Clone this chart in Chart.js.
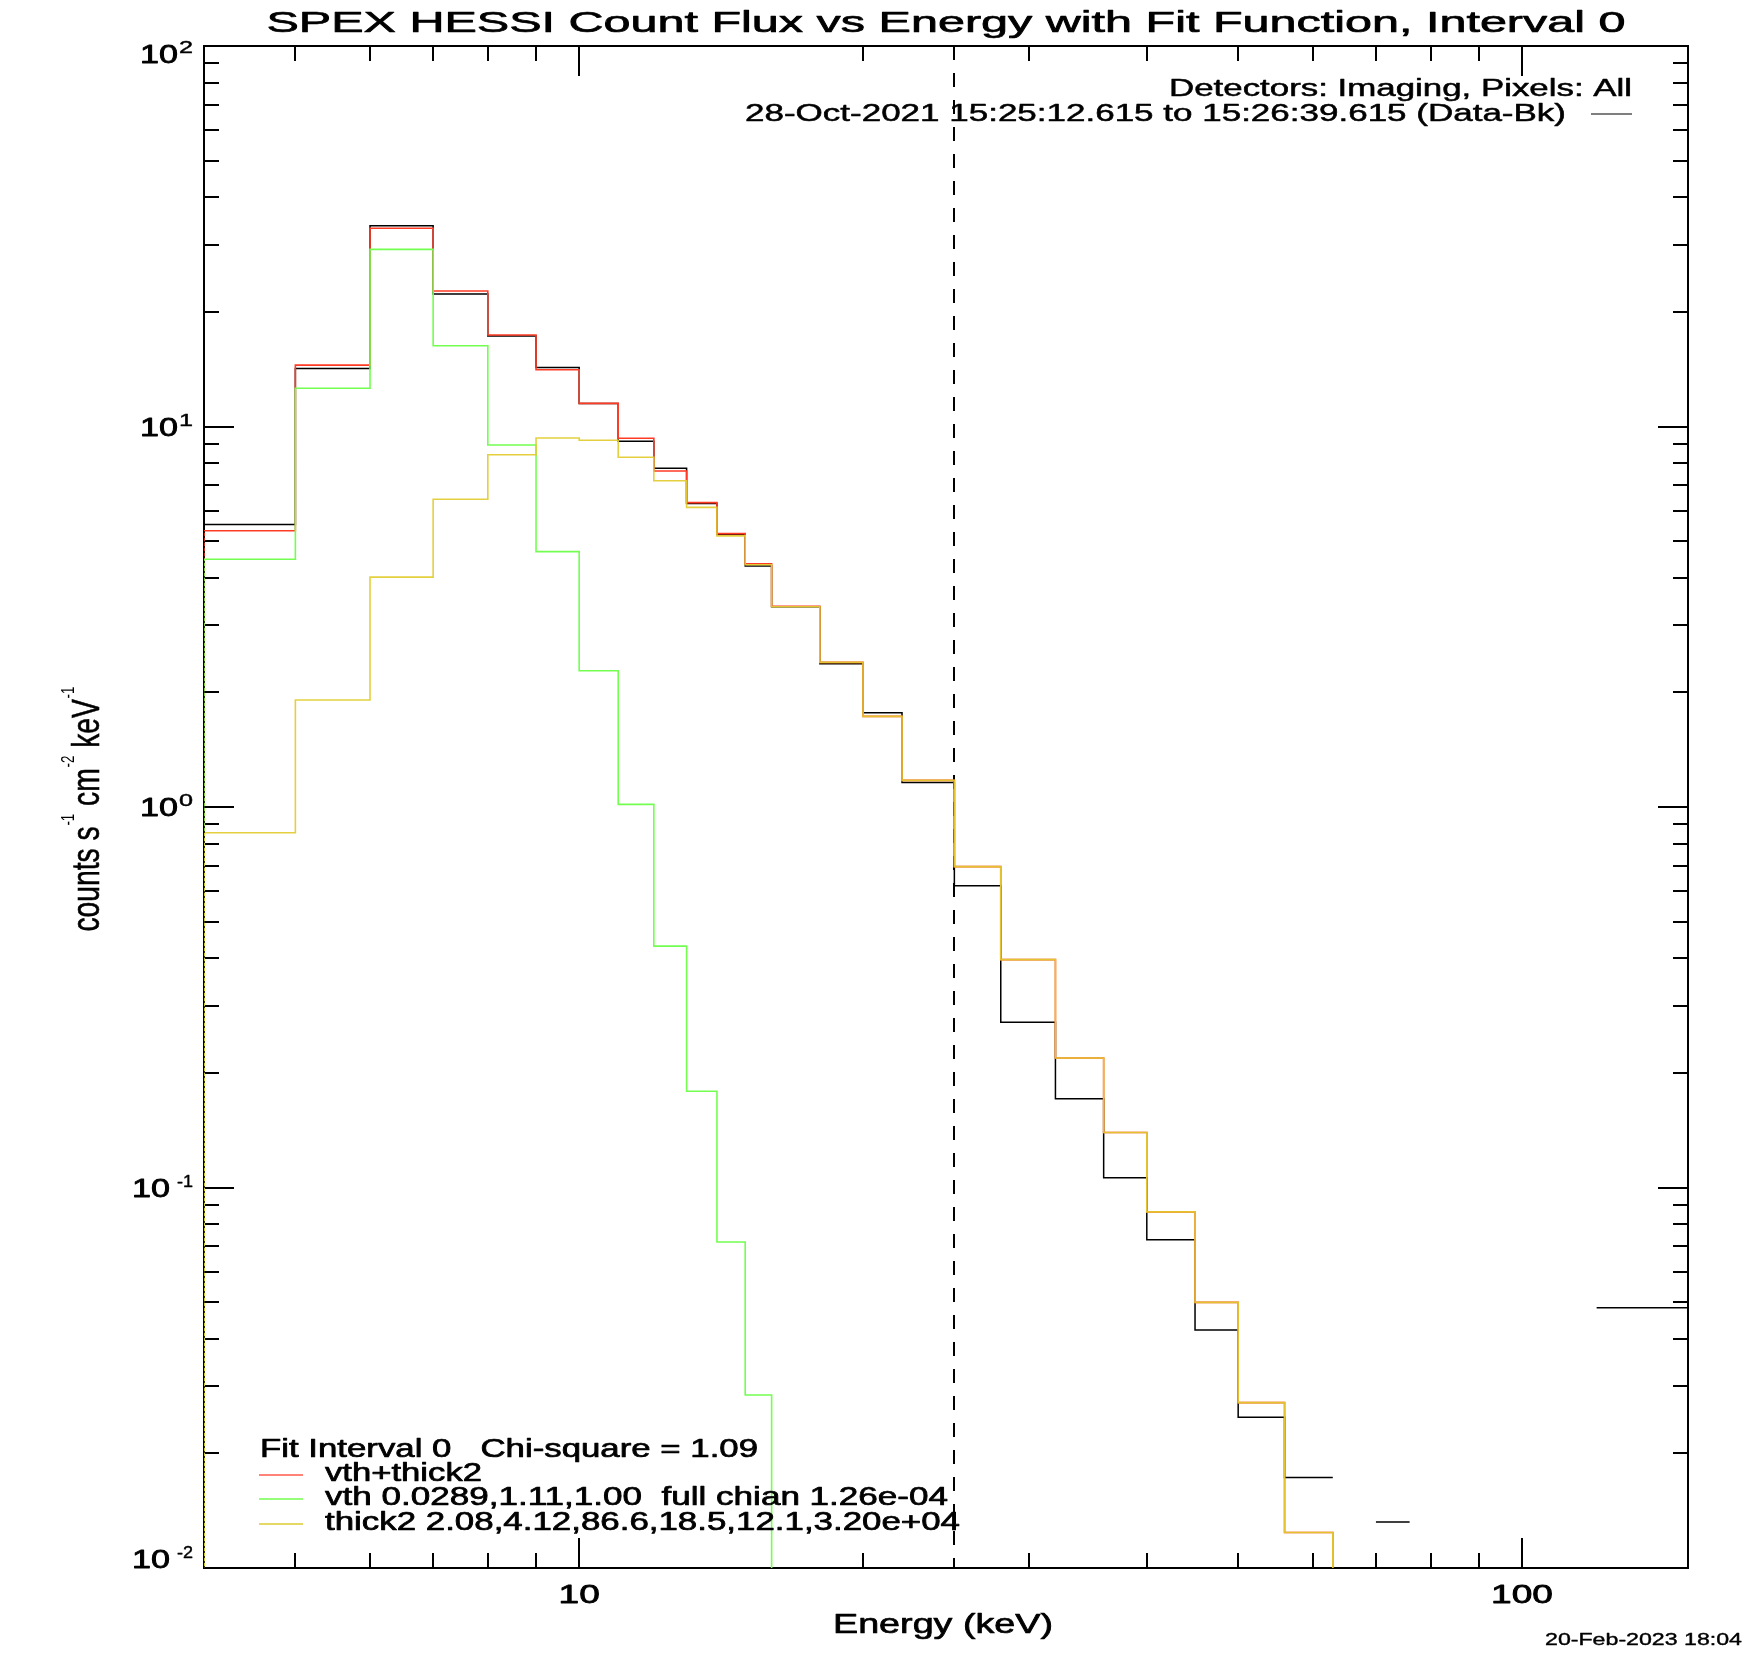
<!DOCTYPE html>
<html>
<head>
<meta charset="utf-8">
<script src="https://cdn.jsdelivr.net/npm/chart.js@4.4.1/dist/chart.umd.min.js"></script>
<style>
  html, body { margin: 0; padding: 0; background: #ffffff; }
  canvas { display: block; }
</style>
</head>
<body>
<canvas id="c" width="1750" height="1660"></canvas>
<script>
// ---------------- data ----------------
const binLow  = [4, 5, 6, 7, 8, 9, 10, 11, 12, 13, 14, 15, 16, 18, 20, 22, 25, 28, 32, 36, 40, 45, 50, 56, 63, 70, 120];
const binHigh = [5, 6, 7, 8, 9, 10, 11, 12, 13, 14, 15, 16, 18, 20, 22, 25, 28, 32, 36, 40, 45, 50, 56, 63, 70, 76, 150];

// Data - background (black)
const dataFlux  = [5.53, 14.2, 33.7, 22.3, 17.3, 14.3, 11.5, 9.14, 7.77, 6.28, 5.20, 4.30, 3.36, 2.38, 1.77, 1.16,
                   0.621, 0.272, 0.171, 0.106, 0.0729, 0.0422, 0.0249, 0.0173, null, 0.0132, 0.0483];
// vth+thick2 (red)
const totalFit  = [5.32, 14.5, 33.2, 22.7, 17.4, 14.1, 11.5, 9.31, 7.64, 6.31, 5.23, 4.36, 3.37, 2.40, 1.73, 1.175,
                   0.697, 0.397, 0.219, 0.1395, 0.0863, 0.0499, 0.0272, 0.0124, 0.0058, null, null];
// vth (green)
const vthFit    = [4.48, 12.6, 29.2, 16.3, 8.94, 4.69, 2.28, 1.016, 0.431, 0.179, 0.0719, 0.0285, 0.0072, null, null, null,
                   null, null, null, null, null, null, null, null, null, null, null];
// thick2 (yellow)
const thick2Fit = [0.856, 1.91, 4.02, 6.44, 8.43, 9.33, 9.20, 8.30, 7.20, 6.13, 5.16, 4.33, 3.36, 2.40, 1.73, 1.175,
                   0.697, 0.397, 0.219, 0.1395, 0.0863, 0.0499, 0.0272, 0.0124, 0.0058, null, null];
const modelFloor = 0.001;   // models rise from below the plot at the first edge

const fitRange = [4, 25];   // keV, dashed markers

const xRange = [4, 150];
const yRange = [0.01, 100];
const xMajorTicks = [10, 100];
const xTickLabels = ['10', '100'];
const xMinorTicks = [5, 6, 7, 8, 9, 20, 30, 40, 50, 60, 70, 80, 90];
const yMajorTicks = [0.01, 0.1, 1, 10, 100];
const yTickBase = '10';
const yTickExponents = ['-2', '-1', '0', '1', '2'];
const yMinorTicks = [0.02, 0.03, 0.04, 0.05, 0.06, 0.07, 0.08, 0.09,
                     0.2, 0.3, 0.4, 0.5, 0.6, 0.7, 0.8, 0.9,
                     2, 3, 4, 5, 6, 7, 8, 9,
                     20, 30, 40, 50, 60, 70, 80, 90];

const titleText = 'SPEX HESSI Count Flux vs Energy with Fit Function, Interval 0';
const infoLine1 = 'Detectors: Imaging, Pixels: All';
const infoLine2 = '28-Oct-2021 15:25:12.615 to 15:26:39.615 (Data-Bk)';
const legendHead = 'Fit Interval 0   Chi-square = 1.09';
const legendLabels = ['vth+thick2', 'vth 0.0289,1.11,1.00  full chian 1.26e-04', 'thick2 2.08,4.12,86.6,18.5,12.1,3.20e+04'];
const xTitle = 'Energy (keV)';
const yTitleParts = [['counts s', '-1'], [' cm', '-2'], [' keV', '-1']];
const dateStamp = '20-Feb-2023 18:04';

// ---------------- helpers ----------------
function histPoints(vals, lead) {
  const pts = [];
  if (lead != null) pts.push({x: binLow[0], y: lead});
  vals.forEach((v, i) => {
    if (v == null) { pts.push({x: binLow[i], y: null}); return; }
    if (i > 0 && vals[i - 1] != null && binHigh[i - 1] !== binLow[i]) pts.push({x: binLow[i], y: null});
    pts.push({x: binLow[i], y: v}, {x: binHigh[i], y: v});
  });
  return pts;
}

const FONT = "'Liberation Sans', Arial, Helvetica, sans-serif";
function fitText(ctx, text, x, y, size, width, align, weight) {
  ctx.save();
  ctx.font = size + 'px ' + FONT;
  const w = ctx.measureText(text).width;
  ctx.translate(x, y);
  ctx.scale(width / w, 1);
  ctx.textAlign = align || 'left';
  ctx.textBaseline = 'alphabetic';
  ctx.fillStyle = '#000';
  ctx.strokeStyle = '#000';
  ctx.lineJoin = 'round';
  ctx.lineWidth = weight == null ? 0.6 : weight;
  ctx.fillText(text, 0, 0);
  if (ctx.lineWidth > 0) ctx.strokeText(text, 0, 0);
  ctx.restore();
}

const COL = {
  data: '#000000',
  total: '#ff3b26',
  vth: '#72ff50',
  thick: 'rgba(226,204,48,0.93)'
};
const LEG_COL = ['#ff5a4a', '#72ff50', '#dccb30'];

// ---------------- drawing plugin (frame, ticks, texts) ----------------
const idlPlugin = {
  id: 'idlFrame',
  beforeDatasetsDraw(chart) {
    const {ctx, chartArea: a, scales: {x, y}} = chart;
    ctx.save();
    ctx.strokeStyle = '#000';
    // dashed fit upper limit
    ctx.lineWidth = 2;
    ctx.setLineDash([14, 13]);
    const xf = Math.round(x.getPixelForValue(fitRange[1]));
    ctx.beginPath(); ctx.moveTo(xf, a.top); ctx.lineTo(xf, a.bottom); ctx.stroke();
    ctx.setLineDash([]);
    // frame
    ctx.lineWidth = 2;
    ctx.strokeRect(a.left, a.top, a.right - a.left, a.bottom - a.top);
    // ticks (inside)
    const tick = (v, len, axis) => {
      if (axis === 'x') {
        const p = Math.round(x.getPixelForValue(v));
        ctx.beginPath();
        ctx.moveTo(p, a.bottom); ctx.lineTo(p, a.bottom - len);
        ctx.moveTo(p, a.top); ctx.lineTo(p, a.top + len);
        ctx.stroke();
      } else {
        const p = Math.round(y.getPixelForValue(v));
        ctx.beginPath();
        ctx.moveTo(a.left, p); ctx.lineTo(a.left + len, p);
        ctx.moveTo(a.right, p); ctx.lineTo(a.right - len, p);
        ctx.stroke();
      }
    };
    ctx.lineWidth = 2;
    xMinorTicks.forEach(v => tick(v, 15, 'x'));
    xMajorTicks.forEach(v => tick(v, 30, 'x'));
    yMinorTicks.forEach(v => tick(v, 15, 'y'));
    yMajorTicks.forEach(v => tick(v, 30, 'y'));
    ctx.restore();
  },
  afterDatasetsDraw(chart) {
    const {ctx, chartArea: a, scales: {x}} = chart;
    ctx.save();
    ctx.strokeStyle = '#000';
    ctx.lineWidth = 1.5;
    ctx.setLineDash([2, 3]);
    const xl = x.getPixelForValue(fitRange[0]);
    ctx.beginPath(); ctx.moveTo(xl, a.top); ctx.lineTo(xl, a.bottom); ctx.stroke();
    ctx.restore();
  },
  afterDraw(chart) {
    const {ctx, chartArea: a, scales: {x, y}} = chart;
    ctx.save();
    // title
    fitText(ctx, titleText, (a.left + a.right) / 2, 32, 30, 1359, 'center', 0.7);
    // info lines, top right
    fitText(ctx, infoLine1, 1632, 96, 23, 463, 'right', 0.5);
    fitText(ctx, infoLine2, 1566, 121, 23, 821, 'right', 0.5);
    ctx.strokeStyle = '#000'; ctx.lineWidth = 1.2;
    ctx.beginPath(); ctx.moveTo(1591, 114); ctx.lineTo(1632, 114); ctx.stroke();

    // x tick labels
    xMajorTicks.forEach((v, i) => {
      const p = x.getPixelForValue(v);
      fitText(ctx, xTickLabels[i], p, a.bottom + 35, 25, xTickLabels[i].length * 20.6, 'center', 0.8);
    });
    // y tick labels with superscript exponents
    yMajorTicks.forEach((v, i) => {
      const py = y.getPixelForValue(v);
      const cy = Math.min(Math.max(py, a.top + 8), a.bottom - 9);
      const base = cy + 9;
      const ex = yTickExponents[i];
      const minus = ex.length > 1;
      const expRight = a.left - 11;
      const expW = minus ? 16 : 14;
      fitText(ctx, ex, expRight, base - 10, 16, expW, 'right', 0.4);
      const baseRight = expRight - expW - (minus ? 7 : 1);
      fitText(ctx, yTickBase, baseRight, base, 25, 38, 'right', 0.8);
    });

    // x title
    fitText(ctx, xTitle, 943, 1633, 27, 220, 'center', 0.7);

    // y title (rotated, condensed)
    ctx.save();
    ctx.translate(99, 809);
    ctx.rotate(-Math.PI / 2);
    const mainSize = 38, supSize = 18;
    let total = 0;
    const pieces = [];
    yTitleParts.forEach(([t, s]) => {
      ctx.font = mainSize + 'px ' + FONT;
      const w1 = ctx.measureText(t).width;
      ctx.font = supSize + 'px ' + FONT;
      const w2 = ctx.measureText(s).width;
      pieces.push([t, w1, s, w2]);
      total += w1 + w2 + 1;
    });
    const sc = 245 / total;
    ctx.scale(sc, 1);
    let cx = -total / 2;
    ctx.fillStyle = '#000';
    ctx.strokeStyle = '#000';
    ctx.lineWidth = 0.6;
    ctx.textAlign = 'left';
    ctx.textBaseline = 'alphabetic';
    pieces.forEach(([t, w1, s, w2]) => {
      ctx.font = mainSize + 'px ' + FONT;
      ctx.fillText(t, cx, 0);
      ctx.strokeText(t, cx, 0);
      cx += w1 + 1;
      ctx.font = supSize + 'px ' + FONT;
      ctx.fillText(s, cx, -25);
      cx += w2;
    });
    ctx.restore();

    // legend, bottom left
    fitText(ctx, legendHead, 260, 1457, 25, 498, 'left', 0.7);
    const legY = [1475, 1499, 1524];
    const legBase = [1481, 1505, 1530];
    const legW = [157, 623, 635];
    legendLabels.forEach((t, i) => {
      ctx.strokeStyle = LEG_COL[i]; ctx.lineWidth = 1.3;
      ctx.beginPath(); ctx.moveTo(259, legY[i]); ctx.lineTo(303, legY[i]); ctx.stroke();
      fitText(ctx, t, 325, legBase[i], 25, legW[i], 'left', 0.7);
    });

    // date stamp
    fitText(ctx, dateStamp, 1545, 1645, 17, 197, 'left', 0.4);
    ctx.restore();
  }
};

// ---------------- chart ----------------
const ctx = document.getElementById('c').getContext('2d');
new Chart(ctx, {
  type: 'line',
  data: {
    datasets: [
      {label: 'Data-Bk', data: histPoints(dataFlux, null), borderColor: COL.data, borderWidth: 1.5, order: 3},
      {label: 'vth+thick2', data: histPoints(totalFit, modelFloor), borderColor: COL.total, borderWidth: 1.6, order: 2},
      {label: 'vth', data: histPoints(vthFit, modelFloor), borderColor: COL.vth, borderWidth: 1.6, order: 1},
      {label: 'thick2', data: histPoints(thick2Fit, modelFloor), borderColor: COL.thick, borderWidth: 1.6, order: 0}
    ]
  },
  options: {
    responsive: false,
    devicePixelRatio: 1,
    animation: false,
    spanGaps: false,
    layout: {padding: {left: 204, right: 62, top: 46, bottom: 92}},
    elements: {point: {radius: 0}, line: {tension: 0, fill: false}},
    plugins: {legend: {display: false}, tooltip: {enabled: false}, title: {display: false}},
    scales: {
      x: {type: 'logarithmic', min: xRange[0], max: xRange[1], display: false},
      y: {type: 'logarithmic', min: yRange[0], max: yRange[1], display: false}
    }
  },
  plugins: [idlPlugin]
});
</script>
</body>
</html>
